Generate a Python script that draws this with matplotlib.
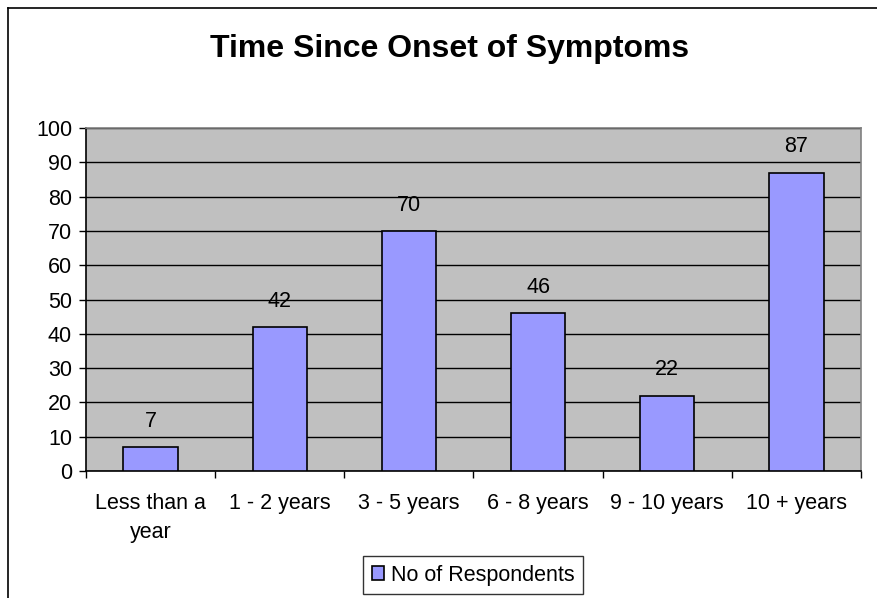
import matplotlib
matplotlib.use("Agg")
import matplotlib.pyplot as plt
from matplotlib.lines import Line2D

# Data
categories = ["Less than a\nyear", "1 - 2 years", "3 - 5 years", "6 - 8 years", "9 - 10 years", "10 + years"]
respondents = [7, 42, 70, 46, 22, 87]
series_name = "No of Respondents"

plt.rcParams['font.family'] = ['Liberation Sans', 'DejaVu Sans']

fig = plt.figure(figsize=(8.77, 5.98), dpi=100)
ax = fig.add_axes([86/877, 127/598, 775/877, 343/598])

x = list(range(len(categories)))
bars = ax.bar(x, respondents, width=0.42, color='#9999FF', edgecolor='black', linewidth=1.2,
              label=series_name, zorder=3)

# value labels
for xi, v in zip(x, respondents):
    ax.annotate(str(v), (xi, v), xytext=(0, 11), textcoords='offset points',
                ha='center', va='bottom', fontsize=15.5)

ax.set_facecolor('#C0C0C0')
ax.set_xlim(-0.5, len(categories) - 0.5)
ax.set_ylim(0, 100)
ax.set_yticks(range(0, 101, 10))
ax.yaxis.grid(True, color='black', linewidth=1, zorder=1)
ax.set_axisbelow(True)

ax.set_xticks(x)
ax.set_xticklabels(categories, fontsize=15.5, linespacing=1.5)
ax.set_xticks([i - 0.5 for i in range(len(categories) + 1)], minor=True)
ax.tick_params(axis='x', which='major', length=0, pad=16)
ax.tick_params(axis='x', which='minor', length=5, width=1, direction='out')
ax.tick_params(axis='y', length=5, width=1, direction='out', labelsize=15.5, pad=5)

ax.spines['top'].set_color('#808080')
ax.spines['right'].set_color('#808080')
ax.spines['left'].set_color('black')
ax.spines['bottom'].set_color('black')
for s in ax.spines.values():
    s.set_linewidth(1.2)

fig.text(450/877, 1 - 49/598, "Time Since Onset of Symptoms", ha='center', va='center',
         fontsize=23, fontweight='bold')

leg = fig.legend(handles=[bars], loc='center', bbox_to_anchor=(473/877, 1 - 575/598),
                 fontsize=15.5, frameon=True, fancybox=False, handlelength=0.6, handleheight=0.6,
                 handletextpad=0.3, borderpad=0.4)
leg.get_frame().set_edgecolor('black')
leg.get_frame().set_linewidth(1)

# outer chart border (left and top visible)
fig.add_artist(Line2D([8/877, 8/877], [0, 1 - 8/598], color='black', linewidth=1.2))
fig.add_artist(Line2D([8/877, 1], [1 - 8/598, 1 - 8/598], color='black', linewidth=1.2))

fig.savefig("out.png", dpi=100)
